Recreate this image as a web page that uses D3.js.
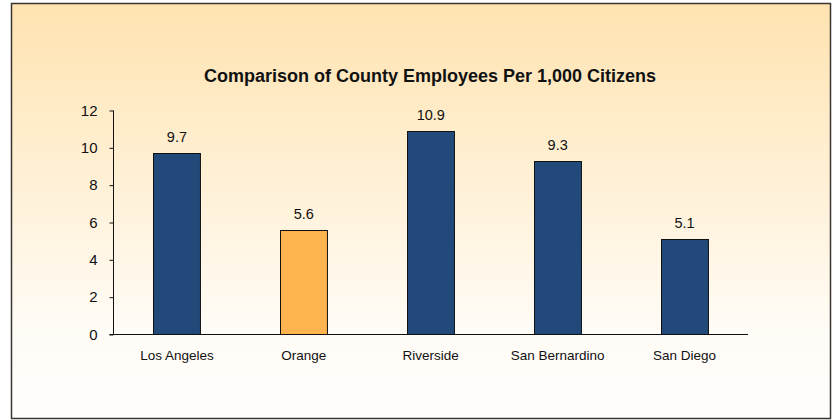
<!DOCTYPE html>
<html><head><meta charset="utf-8">
<script src="https://cdn.jsdelivr.net/npm/d3@7"></script>
<style>html,body{margin:0;padding:0;background:#fff;}svg{display:block;}</style>
</head><body>
<script>
const categories = ["Los Angeles", "Orange", "Riverside", "San Bernardino", "San Diego"];
const values = [9.7, 5.6, 10.9, 9.3, 5.1];
const barColors = ["#214A7B", "#FFB54F", "#214A7B", "#214A7B", "#214A7B"];
const yTicks = [0, 2, 4, 6, 8, 10, 12];
const title = "Comparison of County Employees Per 1,000 Citizens";

const W = 834, H = 420;
const svg = d3.select("body").append("svg").attr("width", W).attr("height", H);
const defs = svg.append("defs");
const grad = defs.append("linearGradient").attr("id", "bg").attr("x1", 0).attr("y1", 0).attr("x2", 0).attr("y2", 1);
grad.append("stop").attr("offset", "0%").attr("stop-color", "#FFE3B0");
grad.append("stop").attr("offset", "80%").attr("stop-color", "#FFFCF7");
grad.append("stop").attr("offset", "100%").attr("stop-color", "#FFFDFB");

// frame
svg.append("rect").attr("x", 11.5).attr("y", 3.5).attr("width", 819).attr("height", 415)
  .attr("fill", "url(#bg)").attr("stroke", "#3a3530").attr("stroke-width", 1.5);

const font = "Arial, 'Liberation Sans', sans-serif";
svg.append("text").attr("x", 430).attr("y", 82).attr("text-anchor", "middle")
  .attr("font-family", font).attr("font-weight", "bold").attr("font-size", 18)
  .attr("fill", "#111").text(title);

const x = d3.scaleBand().domain(categories).range([113.5, 748]).paddingInner(0.63).paddingOuter(0.315);
const y = d3.scaleLinear().domain([0, 12]).range([334.5, 110.5]);

const g = svg.append("g");
g.selectAll("rect.bar").data(values).join("rect").attr("class", "bar")
  .attr("x", (d, i) => Math.round(x(categories[i])) + 0.5)
  .attr("y", d => Math.round(y(d)) + 0.5)
  .attr("width", x.bandwidth())
  .attr("height", d => y(0) - Math.round(y(d)) - 0.5)
  .attr("fill", (d, i) => barColors[i]).attr("stroke", "#111").attr("stroke-width", 1);

g.selectAll("text.val").data(values).join("text").attr("class", "val")
  .attr("x", (d, i) => x(categories[i]) + x.bandwidth() / 2)
  .attr("y", d => y(d) - 11)
  .attr("text-anchor", "middle").attr("font-family", font).attr("font-size", 14.5).attr("fill", "#111")
  .text(d => d.toFixed(1));

const yAxis = d3.axisLeft(y).tickValues(yTicks).tickSize(4).tickPadding(12).tickFormat(d3.format("d"));
const ya = svg.append("g").attr("transform", "translate(113.5,0)").call(yAxis);
ya.select(".domain").attr("stroke", "#111").attr("d", `M0,${y(12)}V${y(0)}`);
ya.selectAll(".tick line").attr("stroke", "#111");
ya.selectAll(".tick text").attr("font-family", font).attr("font-size", 15).attr("fill", "#111");

const xAxis = d3.axisBottom(x).tickSize(0).tickPadding(16);
const xa = svg.append("g").attr("transform", `translate(0,${y(0)})`).call(xAxis);
xa.select(".domain").attr("stroke", "#111").attr("d", "M109.5,0H748");
xa.selectAll(".tick text").attr("font-family", font).attr("font-size", 13.5).attr("fill", "#111");
</script>
</body></html>
